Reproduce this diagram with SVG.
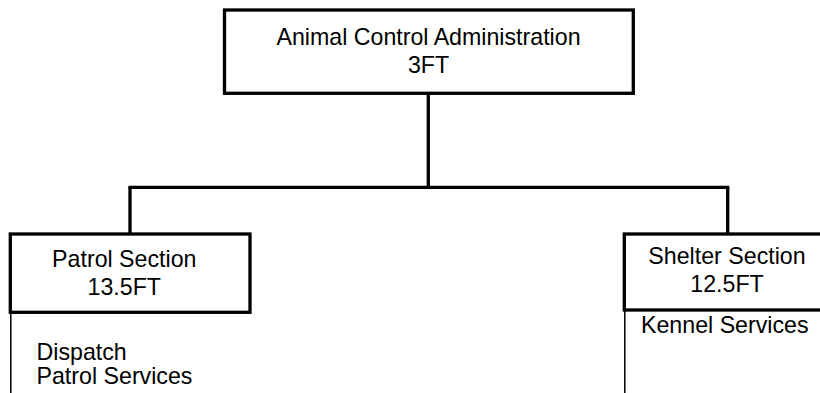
<svg xmlns="http://www.w3.org/2000/svg" width="820" height="393" viewBox="0 0 820 393">
<style>
.box{fill:#fff;stroke:#000;stroke-width:3.3}
.conn{stroke:#000;stroke-width:3.3;fill:none}
.thin{stroke:#000;stroke-width:1.5;fill:none}
text{font-family:"Liberation Sans",Arial,sans-serif;font-size:23.2px;fill:#000}
.c{text-anchor:middle}
</style>
<rect width="820" height="393" fill="#fff"/>
<g id="connectors">
<line class="conn" x1="428.3" y1="93" x2="428.3" y2="187.3"/>
<line class="conn" x1="128.4" y1="187.3" x2="729.3" y2="187.3"/>
<line class="conn" x1="130" y1="187.3" x2="130" y2="234"/>
<line class="conn" x1="727.7" y1="187.3" x2="727.7" y2="234"/>
</g>
<g id="admin">
<rect class="box" x="224.5" y="10" width="408.8" height="83.3"/>
<text class="c" x="428.5" y="44.5">Animal Control Administration</text>
<text class="c" x="428.5" y="73">3FT</text>
</g>
<g id="patrol">
<rect class="box" x="10.3" y="234" width="239.7" height="78.3"/>
<text class="c" x="124.3" y="266.7">Patrol Section</text>
<text class="c" x="124.3" y="295">13.5FT</text>
<line class="thin" x1="10.8" y1="312" x2="10.8" y2="393"/>
<text x="36.5" y="359.5">Dispatch</text>
<text x="36.5" y="383.5">Patrol Services</text>
</g>
<g id="shelter">
<rect class="box" x="624.3" y="234" width="210" height="76"/>
<text class="c" x="727" y="263.5">Shelter Section</text>
<text class="c" x="727" y="291.7">12.5FT</text>
<line class="thin" x1="624.8" y1="310" x2="624.8" y2="393"/>
<text x="641" y="333.3">Kennel Services</text>
</g>
</svg>
